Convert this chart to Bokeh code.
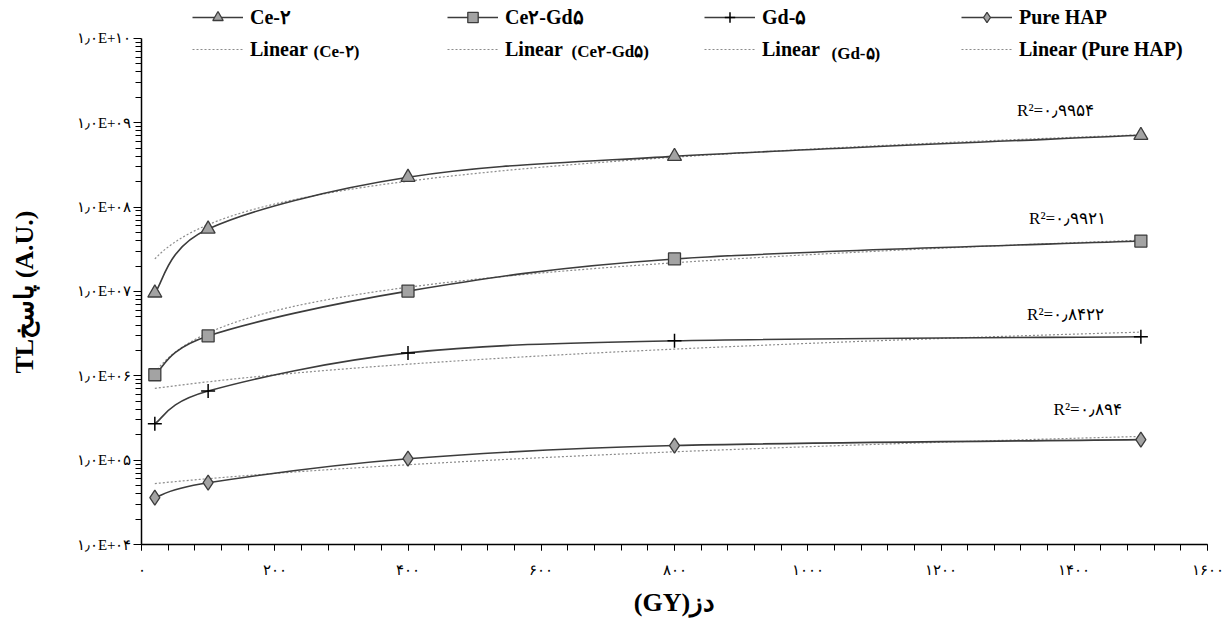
import numpy as np
from bokeh.plotting import figure
from bokeh.models import Range1d, FixedTicker, Legend, LegendItem, Label, ColumnDataSource
from bokeh.embed import file_html
from bokeh.resources import INLINE

# ---------------- data ----------------
dose = [20, 100, 400, 800, 1500]
ce2 = [9.6e6, 5.5e7, 2.26e8, 4.0e8, 7.1e8]
ce2gd5 = [1.03e6, 2.97e6, 1.01e7, 2.43e7, 3.96e7]
gd5 = [2.7e5, 6.6e5, 1.87e6, 2.6e6, 2.9e6]
hap = [3.6e4, 5.4e4, 1.04e5, 1.49e5, 1.75e5]

series_names = ["Ce-۲", "Ce۲-Gd۵", "Gd-۵", "Pure HAP"]
trend_words = ["Linear", "Linear", "Linear", "Linear (Pure HAP)"]
trend_parens = ["(Ce-۲)", "(Ce۲-Gd۵)", "(Gd-۵)", ""]
r2_texts = ["R²=۰٫۹۹۵۴", "R²=۰٫۹۹۲۱", "R²=۰٫۸۴۲۲", "R²=۰٫۸۹۴"]

x_ticks = [0, 200, 400, 600, 800, 1000, 1200, 1400, 1600]
x_tick_labels = ["۰", "۲۰۰", "۴۰۰", "۶۰۰", "۸۰۰", "۱۰۰۰", "۱۲۰۰", "۱۴۰۰", "۱۶۰۰"]
y_exponents = [4, 5, 6, 7, 8, 9, 10]
y_tick_labels = ["۱٫۰E+۰۴", "۱٫۰E+۰۵", "۱٫۰E+۰۶", "۱٫۰E+۰۷", "۱٫۰E+۰۸", "۱٫۰E+۰۹", "۱٫۰E+۱۰"]

x_label = "(GY)دز"
y_label = "TLپاسخ (A.U.)"

# ---------------- styling ----------------
SERIF = "Liberation Serif"
LINE_C = "#3c3c3c"
FILL_C = "#a3a3a3"
TREND_C = "#8c8c8c"

# frame runs to the top of the canvas so the legend (partly above the axis top) is not clipped;
# the visible axis is bounded to 1e4..1e10, which sits 38px below the canvas top.
top_pad_decades = 38 / 84.5
y_end = 10 ** (max(y_exponents) + top_pad_decades)

p = figure(width=1223, height=619, output_backend="svg", toolbar_location=None,
           y_axis_type="log", x_range=Range1d(0, 1600), y_range=Range1d(1e4, y_end),
           min_border_left=141, min_border_right=16, min_border_top=0, min_border_bottom=74)
p.outline_line_color = None
p.xgrid.visible = False
p.ygrid.visible = False
p.background_fill_color = "white"
p.border_fill_color = "white"

# axes
y_ticks = [int(10 ** e) for e in y_exponents]
y_minor = [k * 10 ** e for e in y_exponents[:-1] for k in range(2, 10)]
p.yaxis.ticker = FixedTicker(ticks=y_ticks, minor_ticks=y_minor)
p.yaxis.major_label_overrides = {t: l for t, l in zip(y_ticks, y_tick_labels)}
p.yaxis.bounds = (y_ticks[0], y_ticks[-1])
x_minor = list(range(0, 1601, 40))
p.xaxis.ticker = FixedTicker(ticks=x_ticks, minor_ticks=x_minor)
p.xaxis.major_label_overrides = {t: l for t, l in zip(x_ticks, x_tick_labels)}

for ax in (p.xaxis[0], p.yaxis[0]):
    ax.axis_line_color = "black"
    ax.axis_line_width = 1.5
    ax.major_tick_line_color = "black"
    ax.minor_tick_line_color = "black"
    ax.major_tick_line_width = 1
    ax.minor_tick_line_width = 1
    ax.major_tick_in = 0
    ax.minor_tick_in = 0
    ax.major_label_text_font = SERIF
    ax.major_label_text_font_size = "15px"
    ax.major_label_text_color = "black"
    ax.axis_label_text_font = SERIF
    ax.axis_label_text_font_style = "bold"
    ax.axis_label_text_font_size = "26px"
    ax.axis_label_text_color = "black"

p.xaxis.major_tick_out = 6
p.xaxis.minor_tick_out = 6
p.xaxis.major_label_standoff = 11
p.xaxis.axis_label = x_label
p.xaxis.axis_label_standoff = 7

p.yaxis.major_tick_out = 8
p.yaxis.minor_tick_out = 6
p.yaxis.major_label_standoff = 2
# trailing no-break spaces keep the label centred on the visible (bounded) axis
p.yaxis.axis_label = y_label + "\u00a0" * 6
p.yaxis.axis_label_standoff = 35


def smooth_segments(xs, ys):
    """Cubic Bezier control points (Excel-like smoothing) in x / log10(y) space."""
    lx = np.array(xs, dtype=float)
    ly = np.log10(np.array(ys, dtype=float))
    n = len(lx)
    out = dict(x0=[], y0=[], x1=[], y1=[], cx0=[], cy0=[], cx1=[], cy1=[])
    for i in range(n - 1):
        i0 = max(i - 1, 0)
        i3 = min(i + 2, n - 1)
        c0x = lx[i] + (lx[i + 1] - lx[i0]) / 6
        c0y = ly[i] + (ly[i + 1] - ly[i0]) / 6
        c1x = lx[i + 1] - (lx[i3] - lx[i]) / 6
        c1y = ly[i + 1] - (ly[i3] - ly[i]) / 6
        out["x0"].append(lx[i]); out["y0"].append(10 ** ly[i])
        out["x1"].append(lx[i + 1]); out["y1"].append(10 ** ly[i + 1])
        out["cx0"].append(c0x); out["cy0"].append(10 ** c0y)
        out["cx1"].append(c1x); out["cy1"].append(10 ** c1y)
    return out


all_series = [ce2, ce2gd5, gd5, hap]
markers = ["triangle", "square", "cross", "diamond"]
msizes = [14, 12, 14, 15]
r2_pos = [(1372, 1.41e9), (1390, 7.4e7), (1387, 5.4e6), (1420, 3.96e5)]
legend_x = [51, 306, 563, 820]
paren_pos = [(172, 493), (430, 493), (690, 491)]   # screen px from frame bottom-left

for idx, ys in enumerate(all_series):
    # linear trendline (least squares in linear space), drawn over the data span
    b, a = np.polyfit(dose, ys, 1)
    tx = np.linspace(min(dose), max(dose), 200)
    ty = a + b * tx
    tr = p.line(tx, ty, line_color=TREND_C, line_width=1.2, line_dash="2 2")

    seg = ColumnDataSource(smooth_segments(dose, ys))
    br = p.bezier(x0="x0", y0="y0", x1="x1", y1="y1", cx0="cx0", cy0="cy0",
                  cx1="cx1", cy1="cy1", source=seg, line_color=LINE_C, line_width=1.6)
    if markers[idx] == "cross":
        sr = p.scatter(dose, ys, marker="cross", size=msizes[idx], line_color="black",
                       line_width=1.5)
    else:
        sr = p.scatter(dose, ys, marker=markers[idx], size=msizes[idx], fill_color=FILL_C,
                       line_color=LINE_C, line_width=1.3)

    lab = Label(x=r2_pos[idx][0], y=r2_pos[idx][1], text=r2_texts[idx],
                text_font=SERIF, text_font_size="17px", text_color="black",
                text_align="center", text_baseline="middle")
    p.add_layout(lab)

    leg = Legend(items=[LegendItem(label=series_names[idx], renderers=[br, sr]),
                        LegendItem(label=trend_words[idx], renderers=[tr])],
                 location=(legend_x[idx], 482), orientation="vertical",
                 label_text_font=SERIF, label_text_font_style="bold",
                 label_text_font_size="20px", label_text_color="black",
                 glyph_width=51, glyph_height=26, label_height=26, label_standoff=7,
                 spacing=6, padding=0, margin=0,
                 border_line_alpha=0, background_fill_alpha=0)
    p.add_layout(leg)

    if trend_parens[idx]:
        px, py = paren_pos[idx]
        p.add_layout(Label(x=px, y=py, x_units="screen", y_units="screen",
                           text=trend_parens[idx], text_font=SERIF,
                           text_font_style="bold", text_font_size="17px",
                           text_color="black", text_align="left",
                           text_baseline="middle"))

open("out.html", "w").write(file_html(p, INLINE))
